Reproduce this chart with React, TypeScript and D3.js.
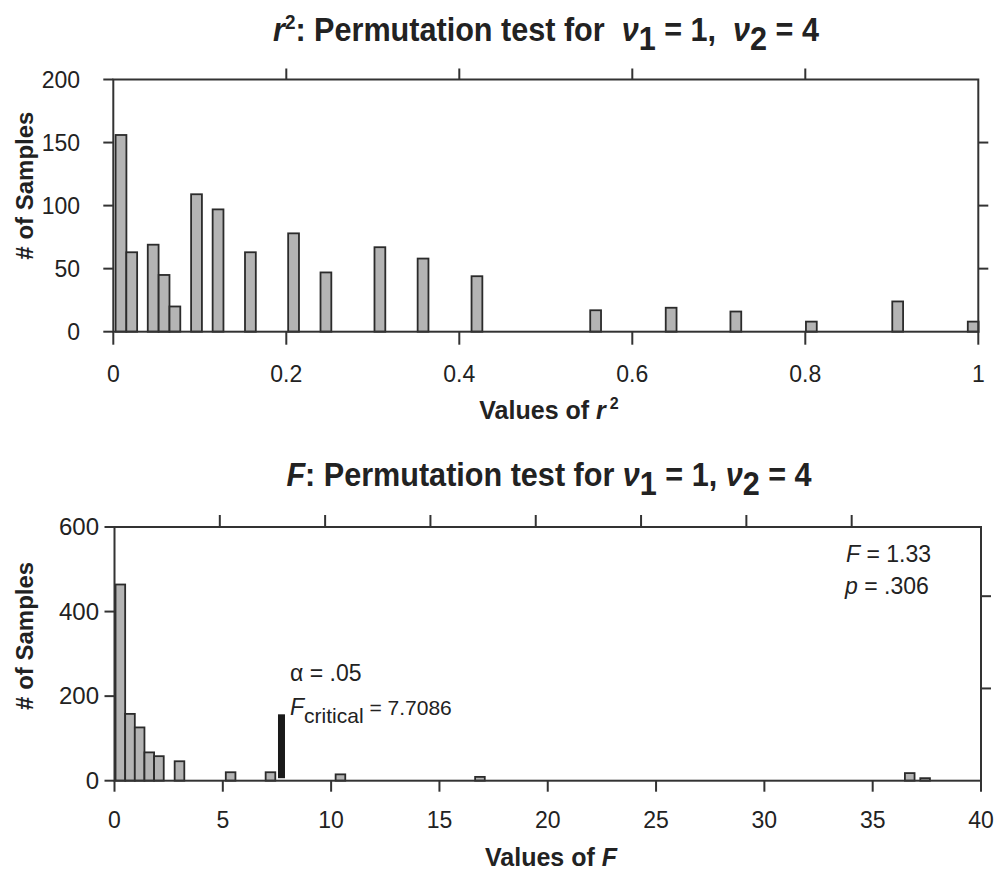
import React from "react";
import * as d3 from "d3";

// r^2 permutation histogram (bin centres)
const r2Centers = [0.0089, 0.0213, 0.0461, 0.0587, 0.0712, 0.0962, 0.1211, 0.1585, 0.2084, 0.2458, 0.3082, 0.3581, 0.4204, 0.5576, 0.6449, 0.7197, 0.807, 0.9068, 0.9941];
const r2Counts = [156, 63, 69, 45, 20, 109, 97, 63, 78, 47, 67, 58, 44, 17, 19, 16, 8, 24, 8];
const r2BinWidth = 0.0125;
const r2XTicks = [0, 0.2, 0.4, 0.6, 0.8, 1];
const r2YTicks = [0, 50, 100, 150, 200];

// F permutation histogram
const fCenters = [0.27, 0.715, 1.16, 1.605, 2.05, 3.0, 5.36, 7.2, 10.43, 16.87, 36.71, 37.42];
const fCounts = [464, 158, 126, 67, 58, 46, 20, 20, 15, 9, 18, 6];
const fBinWidth = 0.445;
const fXTicks = [0, 5, 10, 15, 20, 25, 30, 35, 40];
const fYTicks = [0, 200, 400, 600];
const fTopTicks = [5, 10, 15, 20, 25, 30, 35];
const fRightTicks = [200, 400];
const fCritical = 7.7086;
const fCriticalCount = 157;

const SANS = "'Liberation Sans', Arial, Helvetica, sans-serif";
const AXIS = "#333";
const BAR_FILL = "#b4b4b4";
const BAR_STROKE = "#2b2b2b";
const TICK = 10;

function Bars({ centers, counts, width, x, y }) {
  return (
    <g>
      {centers.map((c, i) => {
        const x0 = x(c - width / 2);
        const x1 = x(c + width / 2);
        return (
          <rect
            key={i}
            x={x0}
            y={y(counts[i])}
            width={x1 - x0}
            height={y(0) - y(counts[i])}
            fill={BAR_FILL}
            stroke={BAR_STROKE}
            strokeWidth={1.8}
          />
        );
      })}
    </g>
  );
}

export default function App() {
  // top panel scales
  const xR2 = d3.scaleLinear().domain([0, 1]).range([113.3, 978.3]);
  const yR2 = d3.scaleLinear().domain([0, 200]).range([331.7, 79.5]);

  // bottom panel scales (the top/right box ticks come from a second, offset axes)
  const xF = d3.scaleLinear().domain([0, 40]).range([114.5, 981]);
  const yF = d3.scaleLinear().domain([0, 600]).range([780.7, 527]);
  const xFTop = d3.scaleLinear().domain([0, 41.14]).range([114.5, 981]);
  const yFRight = d3.scaleLinear().domain([0, 550]).range([780.7, 527]);

  const [r2L, r2R] = xR2.range();
  const [r2B, r2T] = yR2.range();
  const [fL, fR] = xF.range();
  const [fB, fT] = yF.range();

  const line = (x1, y1, x2, y2, k) => (
    <line key={k} x1={x1} y1={y1} x2={x2} y2={y2} stroke={AXIS} strokeWidth={2} />
  );

  return (
    <svg
      width={996}
      height={877}
      style={{ position: "absolute", left: 0, top: 0, background: "#fff" }}
      fontFamily={SANS}
      fill="#222"
    >
      {/* ---------- top panel ---------- */}
      <g transform="translate(546,41) scale(0.9,1)">
        <text textAnchor="middle" fontWeight="bold" fontSize={34} style={{ whiteSpace: "pre" }}>
          <tspan fontStyle="italic">r</tspan>
          <tspan dy={-12} fontSize={21}>2</tspan>
          <tspan dy={12}>: Permutation test for  </tspan>
          <tspan fontStyle="italic">ν</tspan>
          <tspan dy={9}>1</tspan>
          <tspan dy={-9}> = 1,  </tspan>
          <tspan fontStyle="italic">ν</tspan>
          <tspan dy={9}>2</tspan>
          <tspan dy={-9}> = 4</tspan>
        </text>
      </g>

      <Bars centers={r2Centers} counts={r2Counts} width={r2BinWidth} x={xR2} y={yR2} />

      <rect x={r2L} y={r2T} width={r2R - r2L} height={r2B - r2T} fill="none" stroke={AXIS} strokeWidth={2} />
      {r2YTicks.map((t) => line(r2L - TICK, yR2(t), r2L, yR2(t), "yl" + t))}
      {r2YTicks.filter((t) => t > 0 && t < 200).map((t) => line(r2R, yR2(t), r2R + TICK, yR2(t), "yr" + t))}
      {r2XTicks.map((t) => line(xR2(t), r2B, xR2(t), r2B + TICK + 3, "xb" + t))}
      {r2XTicks.filter((t) => t > 0 && t < 1).map((t) => line(xR2(t), r2T - TICK - 1, xR2(t), r2T, "xt" + t))}

      {r2YTicks.map((t) => (
        <text key={"yl" + t} x={80} y={yR2(t) + 8} textAnchor="end" fontSize={23}>
          {t}
        </text>
      ))}
      {r2XTicks.map((t) => (
        <text key={"xl" + t} x={xR2(t)} y={382} textAnchor="middle" fontSize={23}>
          {d3.format("~g")(t)}
        </text>
      ))}
      <text x={549} y={419} textAnchor="middle" fontWeight="bold" fontSize={25}>
        Values of <tspan fontStyle="italic">r</tspan>
        <tspan dx={4} dy={-10} fontSize={16}>2</tspan>
      </text>
      <text transform={`translate(33,${(r2T + r2B) / 2 - 20}) rotate(-90)`} textAnchor="middle" fontWeight="bold" fontSize={24}>
        # of Samples
      </text>

      {/* ---------- bottom panel ---------- */}
      <g transform="translate(549,486) scale(0.9,1)">
        <text textAnchor="middle" fontWeight="bold" fontSize={34} style={{ whiteSpace: "pre" }}>
          <tspan fontStyle="italic">F</tspan>
          <tspan>: Permutation test for </tspan>
          <tspan fontStyle="italic">ν</tspan>
          <tspan dy={9}>1</tspan>
          <tspan dy={-9}> = 1, </tspan>
          <tspan fontStyle="italic">ν</tspan>
          <tspan dy={9}>2</tspan>
          <tspan dy={-9}> = 4</tspan>
        </text>
      </g>

      <Bars centers={fCenters} counts={fCounts} width={fBinWidth} x={xF} y={yF} />
      <rect
        x={xF(fCritical) - 3.5}
        y={yF(fCriticalCount)}
        width={7}
        height={yF(0) - yF(fCriticalCount) - 2.5}
        fill="#1a1a1a"
      />

      <rect x={fL} y={fT} width={fR - fL} height={fB - fT} fill="none" stroke={AXIS} strokeWidth={2} />
      {fYTicks.map((t) => line(fL - TICK, yF(t), fL, yF(t), "fyl" + t))}
      {fRightTicks.map((t) => line(fR, yFRight(t), fR + TICK, yFRight(t), "fyr" + t))}
      {fXTicks.map((t) => line(xF(t), fB, xF(t), fB + TICK + 1, "fxb" + t))}
      {fTopTicks.map((t) => line(xFTop(t), fT - TICK - 2, xFTop(t), fT, "fxt" + t))}

      {fYTicks.map((t) => (
        <text key={"fyl" + t} x={99} y={yF(t) + 8} textAnchor="end" fontSize={24}>
          {t}
        </text>
      ))}
      {fXTicks.map((t) => (
        <text key={"fxl" + t} x={xF(t)} y={828} textAnchor="middle" fontSize={23}>
          {t}
        </text>
      ))}
      <text x={551} y={866} textAnchor="middle" fontWeight="bold" fontSize={25}>
        Values of <tspan fontStyle="italic">F</tspan>
      </text>
      <text transform={`translate(33,${(fT + fB) / 2 - 18}) rotate(-90)`} textAnchor="middle" fontWeight="bold" fontSize={24}>
        # of Samples
      </text>

      {/* annotations */}
      <text x={290} y={681} fontSize={23} style={{ whiteSpace: "pre" }}>
        α = .05
      </text>
      <text x={290} y={715} fontSize={23} style={{ whiteSpace: "pre" }}>
        <tspan fontStyle="italic">F</tspan>
        <tspan dy={8} fontSize={21}>critical</tspan>
        <tspan dy={-8} fontSize={21}> = 7.7086</tspan>
      </text>
      <text x={846} y={562} fontSize={23} style={{ whiteSpace: "pre" }}>
        <tspan fontStyle="italic">F</tspan>
        <tspan> = 1.33</tspan>
      </text>
      <text x={845} y={594} fontSize={23} style={{ whiteSpace: "pre" }}>
        <tspan fontStyle="italic">p</tspan>
        <tspan> = .306</tspan>
      </text>
    </svg>
  );
}
